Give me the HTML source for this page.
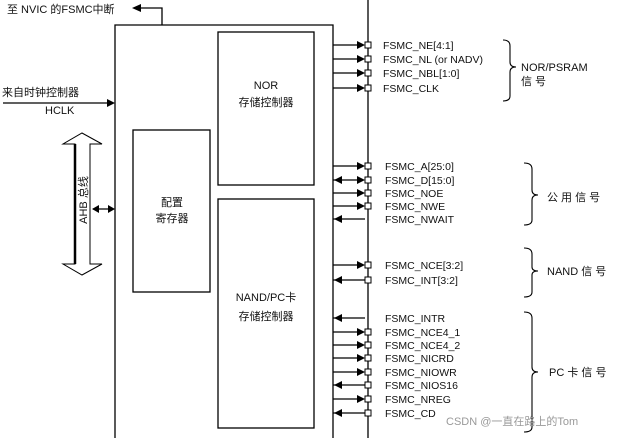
<!DOCTYPE html>
<html><head><meta charset="utf-8">
<style>
html,body{margin:0;padding:0;background:#fff;}
svg{display:block;}
text{font-family:"Liberation Sans","Noto Sans CJK SC",sans-serif;fill:#111;}
</style></head>
<body>
<svg width="621" height="438" viewBox="0 0 621 438" xmlns="http://www.w3.org/2000/svg">
<defs>
<marker id="ah" markerWidth="8" markerHeight="8" refX="7" refY="4" orient="auto" markerUnits="userSpaceOnUse">
<path d="M0,0 L8,4 L0,8 Z" fill="#000"/></marker>
</defs>
<g stroke="#000" stroke-width="1.3" fill="none">
<!-- main box -->
<polyline points="115,438 115,25 333,25 333,438"/>
<!-- interrupt -->
<polyline points="162,25 162,8 140,8"/>
<!-- inner boxes -->
<rect x="218" y="32" width="96" height="153"/>
<rect x="133" y="130" width="77" height="162"/>
<rect x="218" y="199" width="96" height="229"/>
<!-- bus line -->
<line x1="368" y1="0" x2="368" y2="438"/>
<!-- HCLK -->
<line x1="3" y1="103" x2="108" y2="103"/>
<!-- AHB hollow arrow -->
<path d="M75,144 L63,144 L82,133 L102,144 L90,144 L90,264 L102,264 L82,275 L63,264 L75,264 Z" stroke-width="1"/>
<line x1="75" y1="144" x2="75" y2="264" stroke-width="2.5"/>
<line x1="93" y1="209" x2="113" y2="209"/>
</g>
<path d="M132,8 L141,4 L141,12 Z" fill="#000"/>
<path d="M115,103 L107,99 L107,107 Z" fill="#000"/>
<path d="M92,209 L99,205 L99,213 Z" fill="#000"/>
<path d="M115,209 L108,205 L108,213 Z" fill="#000"/>

<text x="7" y="13" font-size="11">至 NVIC 的FSMC中断</text>
<text x="2" y="96" font-size="11">来自时钟控制器</text>
<text x="45" y="114" font-size="11">HCLK</text>
<text transform="translate(87,200) rotate(-90)" font-size="11" text-anchor="middle">AHB 总线</text>
<text x="266" y="89" font-size="11" text-anchor="middle">NOR</text>
<text x="266" y="106" font-size="11" text-anchor="middle">存储控制器</text>
<text x="172" y="206" font-size="11" text-anchor="middle">配置</text>
<text x="172" y="222" font-size="11" text-anchor="middle">寄存器</text>
<text x="266" y="301" font-size="11" text-anchor="middle">NAND/PC卡</text>
<text x="266" y="320" font-size="11" text-anchor="middle">存储控制器</text>

<g id="sig" stroke="#000" stroke-width="1.2">
</g>
<g font-size="10.5">
<text x="383" y="49">FSMC_NE[4:1]</text>
<text x="383" y="63">FSMC_NL (or NADV)</text>
<text x="383" y="77">FSMC_NBL[1:0]</text>
<text x="383" y="92">FSMC_CLK</text>
<text x="385" y="170">FSMC_A[25:0]</text>
<text x="385" y="184">FSMC_D[15:0]</text>
<text x="385" y="197">FSMC_NOE</text>
<text x="385" y="210">FSMC_NWE</text>
<text x="385" y="223">FSMC_NWAIT</text>
<text x="385" y="269">FSMC_NCE[3:2]</text>
<text x="385" y="284">FSMC_INT[3:2]</text>
<text x="385" y="322">FSMC_INTR</text>
<text x="385" y="336">FSMC_NCE4_1</text>
<text x="385" y="349">FSMC_NCE4_2</text>
<text x="385" y="362">FSMC_NICRD</text>
<text x="385" y="376">FSMC_NIOWR</text>
<text x="385" y="389">FSMC_NIOS16</text>
<text x="385" y="403">FSMC_NREG</text>
<text x="385" y="417">FSMC_CD</text>
</g>
<!-- signal rows -->
<g stroke="#000" stroke-width="1.2" fill="#fff">
<!-- out rows: y list -->
<line x1="333" y1="45" x2="360" y2="45"/><line x1="333" y1="59" x2="360" y2="59"/>
<line x1="333" y1="73" x2="360" y2="73"/><line x1="333" y1="88" x2="360" y2="88"/>
<line x1="333" y1="166" x2="360" y2="166"/><line x1="333" y1="180" x2="360" y2="180"/>
<line x1="333" y1="193" x2="360" y2="193"/><line x1="333" y1="206" x2="360" y2="206"/>
<line x1="333" y1="219" x2="365" y2="219"/>
<line x1="333" y1="265" x2="360" y2="265"/><line x1="333" y1="280" x2="365" y2="280"/>
<line x1="333" y1="318" x2="365" y2="318"/>
<line x1="333" y1="332" x2="360" y2="332"/><line x1="333" y1="345" x2="360" y2="345"/>
<line x1="333" y1="358" x2="360" y2="358"/><line x1="333" y1="372" x2="360" y2="372"/>
<line x1="333" y1="385" x2="365" y2="385"/><line x1="333" y1="399" x2="360" y2="399"/>
<line x1="333" y1="413" x2="365" y2="413"/>
<g stroke-width="1">
<rect x="365" y="42" width="6" height="6"/><rect x="365" y="56" width="6" height="6"/>
<rect x="365" y="70" width="6" height="6"/><rect x="365" y="85" width="6" height="6"/>
<rect x="365" y="163" width="6" height="6"/><rect x="365" y="177" width="6" height="6"/>
<rect x="365" y="190" width="6" height="6"/><rect x="365" y="203" width="6" height="6"/>
<rect x="365" y="262" width="6" height="6"/><rect x="365" y="277" width="6" height="6"/>
<rect x="365" y="329" width="6" height="6"/><rect x="365" y="342" width="6" height="6"/>
<rect x="365" y="355" width="6" height="6"/><rect x="365" y="369" width="6" height="6"/>
<rect x="365" y="382" width="6" height="6"/><rect x="365" y="396" width="6" height="6"/>
<rect x="365" y="410" width="6" height="6"/>
</g>
</g>
<g fill="#000">
<!-- right heads at x 365 -->
<path d="M365,45 L357,41 L357,49Z"/><path d="M365,59 L357,55 L357,63Z"/>
<path d="M365,73 L357,69 L357,77Z"/><path d="M365,88 L357,84 L357,92Z"/>
<path d="M365,166 L357,162 L357,170Z"/><path d="M365,180 L357,176 L357,184Z"/>
<path d="M365,193 L357,189 L357,197Z"/><path d="M365,206 L357,202 L357,210Z"/>
<path d="M365,265 L357,261 L357,269Z"/>
<path d="M365,332 L357,328 L357,336Z"/><path d="M365,345 L357,341 L357,349Z"/>
<path d="M365,358 L357,354 L357,362Z"/><path d="M365,372 L357,368 L357,376Z"/>
<path d="M365,399 L357,395 L357,403Z"/>
<!-- left heads at x 334 -->
<path d="M334,180 L342,176 L342,184Z"/><path d="M334,219 L342,215 L342,223Z"/>
<path d="M334,280 L342,276 L342,284Z"/><path d="M334,318 L342,314 L342,322Z"/>
<path d="M334,385 L342,381 L342,389Z"/><path d="M334,413 L342,409 L342,417Z"/>
</g>
<!-- braces -->
<g stroke="#000" stroke-width="1.1" fill="none">
<path d="M503,40 Q510,40 510,46 L510,62 Q510,67 516,67 Q510,67 510,72 L510,96 Q510,101 503,101"/>
<path d="M524,163 Q532,163 532,169 L532,190 Q532,195 538,195 Q532,195 532,200 L532,220 Q532,225 524,225"/>
<path d="M524,248 Q532,248 532,254 L532,267 Q532,271 538,271 Q532,271 532,275 L532,292 Q532,297 524,297"/>
<path d="M524,312 Q532,312 532,318 L532,367 Q532,372 538,372 Q532,372 532,377 L532,427 Q532,432 524,432"/>
</g>
<g font-size="11">
<text x="521" y="71">NOR/PSRAM</text>
<text x="521" y="85">信 号</text>
<text x="547" y="201">公 用 信 号</text>
<text x="547" y="275">NAND 信 号</text>
<text x="549" y="376">PC 卡 信 号</text>
</g>
<text x="446" y="425" font-size="11" style="fill:#999">CSDN @一直在路上的Tom</text>
</svg>
</body></html>
